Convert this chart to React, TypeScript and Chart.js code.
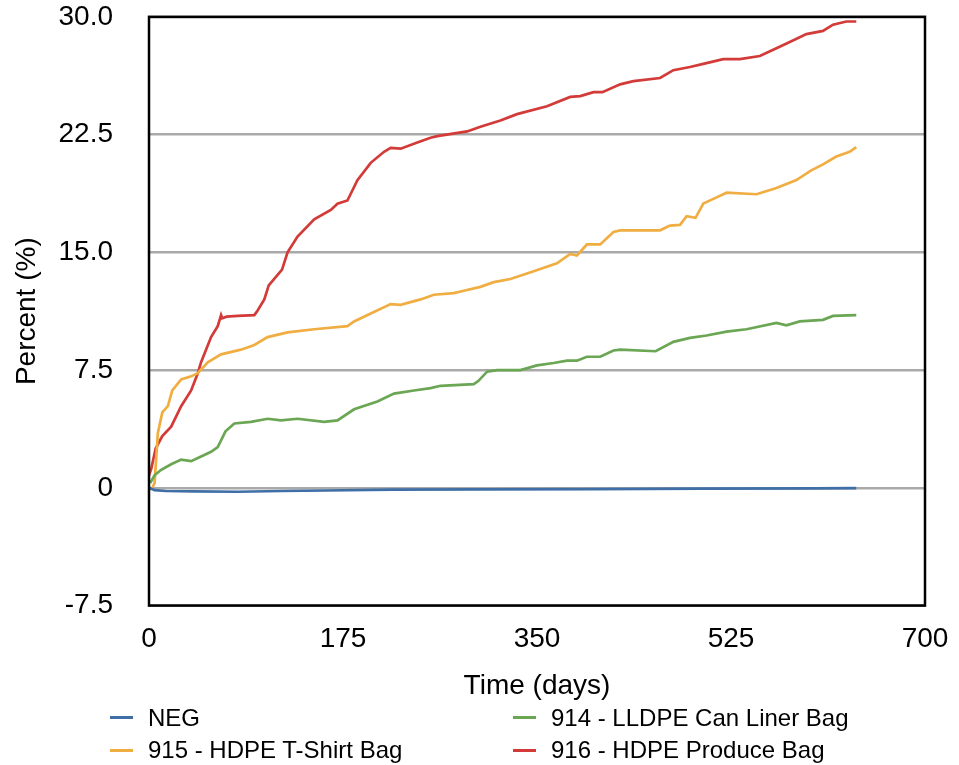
import React, { useEffect, useRef } from "react";
import { Chart, registerables } from "chart.js";

Chart.register(...registerables);

// ---- Data ----
const negDays = [0, 5, 15, 40, 80, 120, 160, 220, 300, 400, 500, 600, 638];
const negValues = [0.0, -0.15, -0.2, -0.22, -0.25, -0.2, -0.17, -0.12, -0.1, -0.08, -0.05, -0.03, -0.02];

const lldpeDays = [1, 5, 11, 20, 29, 38, 47, 56, 62, 69, 77, 92, 107, 119, 134, 158, 170, 185, 206, 221, 239, 254, 263, 293, 297, 305, 314, 335, 350, 365, 377, 386, 395, 407, 419, 425, 457, 473, 488, 503, 521, 539, 566, 575, 587, 608, 617, 638];
const lldpeValues = [0.3, 0.8, 1.15, 1.5, 1.8, 1.7, 2.0, 2.3, 2.6, 3.6, 4.1, 4.2, 4.4, 4.3, 4.4, 4.2, 4.3, 5.0, 5.5, 6.0, 6.2, 6.35, 6.5, 6.6, 6.8, 7.4, 7.5, 7.5, 7.8, 7.95, 8.1, 8.1, 8.35, 8.35, 8.75, 8.8, 8.7, 9.3, 9.55, 9.7, 9.95, 10.1, 10.5, 10.35, 10.6, 10.7, 10.95, 11.0];

const tshirtDays = [1, 3, 5, 8, 12, 17, 21, 29, 38, 44, 53, 65, 83, 95, 107, 125, 149, 179, 185, 200, 218, 227, 245, 257, 275, 284, 299, 311, 326, 347, 368, 380, 386, 395, 407, 419, 425, 461, 470, 479, 485, 493, 500, 512, 521, 548, 566, 584, 597, 608, 620, 632, 638];
const tshirtValues = [-0.1, 0.0, 0.3, 3.5, 4.8, 5.2, 6.2, 6.9, 7.1, 7.3, 8.0, 8.5, 8.8, 9.1, 9.6, 9.9, 10.1, 10.3, 10.6, 11.1, 11.7, 11.65, 12.0, 12.3, 12.4, 12.55, 12.8, 13.1, 13.3, 13.8, 14.3, 14.9, 14.8, 15.5, 15.5, 16.3, 16.4, 16.4, 16.7, 16.75, 17.3, 17.2, 18.1, 18.5, 18.8, 18.7, 19.1, 19.6, 20.2, 20.6, 21.1, 21.4, 21.7];

const produceDays = [0, 2, 6, 12, 20, 29, 38, 44, 47, 56, 62, 65, 66, 70, 80, 95, 98, 104, 108, 120, 125, 134, 149, 164, 170, 179, 188, 200, 212, 218, 227, 242, 254, 260, 287, 299, 317, 332, 359, 380, 389, 401, 409, 425, 437, 461, 473, 488, 500, 518, 533, 551, 566, 578, 593, 608, 617, 629, 638];
const produceValues = [0.8, 1.2, 2.5, 3.3, 3.9, 5.2, 6.2, 7.3, 8.0, 9.6, 10.3, 11.0, 10.8, 10.9, 10.95, 11.0, 11.3, 12.0, 12.9, 13.9, 15.0, 16.0, 17.1, 17.7, 18.1, 18.3, 19.6, 20.7, 21.4, 21.65, 21.6, 22.0, 22.3, 22.4, 22.7, 23.0, 23.4, 23.8, 24.3, 24.9, 24.95, 25.2, 25.2, 25.7, 25.9, 26.1, 26.6, 26.8, 27.0, 27.3, 27.3, 27.5, 28.0, 28.4, 28.9, 29.1, 29.5, 29.7, 29.7];

const seriesLabels = ["NEG", "914 - LLDPE Can Liner Bag", "915 - HDPE T-Shirt Bag", "916 - HDPE Produce Bag"];
const seriesColors = ["#3f6fa6", "#6aa653", "#f0ae42", "#d23b38"];

const xTickValues = [0, 175, 350, 525, 700];
const xTickLabels = ["0", "175", "350", "525", "700"];
const yTickValues = [-7.5, 0, 7.5, 15, 22.5, 30];
const yTickLabels = ["-7.5", "0", "7.5", "15.0", "22.5", "30.0"];

const xTitle = "Time (days)";
const yTitle = "Percent (%)";

const FONT = "'Liberation Sans', Arial, Helvetica, sans-serif";

function toPoints(days: number[], vals: number[]) {
  return days.map((d, i) => ({ x: d, y: vals[i] }));
}

const borderPlugin = {
  id: "plotBorder",
  afterDraw(chart: any) {
    const { ctx, chartArea } = chart;
    ctx.save();
    ctx.strokeStyle = "#000";
    ctx.lineWidth = 2.5;
    ctx.strokeRect(chartArea.left, chartArea.top, chartArea.right - chartArea.left, chartArea.bottom - chartArea.top);
    ctx.restore();
  },
};

export default function App() {
  const canvasRef = useRef<HTMLCanvasElement | null>(null);

  useEffect(() => {
    if (!canvasRef.current) return;
    const dataSets = [
      toPoints(negDays, negValues),
      toPoints(lldpeDays, lldpeValues),
      toPoints(tshirtDays, tshirtValues),
      toPoints(produceDays, produceValues),
    ];
    const chart = new Chart(canvasRef.current, {
      type: "line",
      data: {
        datasets: dataSets.map((d, i) => ({
          label: seriesLabels[i],
          data: d,
          borderColor: seriesColors[i],
          backgroundColor: seriesColors[i],
          borderWidth: 2.7,
          pointRadius: 0,
          tension: 0,
          fill: false,
        })),
      },
      options: {
        animation: false,
        responsive: true,
        maintainAspectRatio: false,
        layout: { padding: { left: 0, top: 16.5, right: 34, bottom: 0 } },
        plugins: { legend: { display: false }, tooltip: { enabled: false } },
        scales: {
          x: {
            type: "linear",
            min: 0,
            max: 700,
            border: { display: false },
            grid: { display: false, drawTicks: true, tickLength: 17, tickColor: "rgba(0,0,0,0)" },
            afterBuildTicks: (s: any) => {
              s.ticks = xTickValues.map((v) => ({ value: v }));
            },
            afterFit: (s: any) => {
              s.height = 99.4;
            },
            ticks: {
              color: "#000",
              padding: 0,
              maxRotation: 0,
              font: { family: FONT, size: 28 },
              callback: (v: any) => {
                const i = xTickValues.indexOf(Number(v));
                return i >= 0 ? xTickLabels[i] : "";
              },
            },
            title: {
              display: true,
              text: xTitle,
              color: "#000",
              font: { family: FONT, size: 28 },
              padding: { top: 0, bottom: 2 },
            },
          },
          y: {
            type: "linear",
            min: -7.5,
            max: 30,
            border: { display: false },
            grid: { color: "#a9a9a9", lineWidth: 2.5, drawTicks: true, tickLength: 36, tickColor: "rgba(0,0,0,0)" },
            afterBuildTicks: (s: any) => {
              s.ticks = yTickValues.map((v) => ({ value: v }));
            },
            afterFit: (s: any) => {
              s.width = 149;
            },
            ticks: {
              color: "#000",
              padding: 0,
              font: { family: FONT, size: 28 },
              callback: (v: any) => {
                const i = yTickValues.indexOf(Number(v));
                return i >= 0 ? yTickLabels[i] : "";
              },
            },
            title: {
              display: true,
              text: yTitle,
              color: "#000",
              font: { family: FONT, size: 28 },
              padding: { top: 10, bottom: 0 },
            },
          },
        },
      },
      plugins: [borderPlugin],
    });
    return () => chart.destroy();
  }, []);

  const legendPos = [
    { x: 110, y: 717.5 },
    { x: 513, y: 717.5 },
    { x: 110, y: 750 },
    { x: 513, y: 750 },
  ];

  return (
    <div style={{ position: "absolute", left: 0, top: 0, width: 959, height: 765, background: "#fff", fontFamily: FONT }}>
      <div style={{ position: "absolute", left: 0, top: 0, width: 959, height: 705 }}>
        <canvas ref={canvasRef} />
      </div>
      {seriesLabels.map((lab, i) => (
        <div key={lab}>
          <div
            style={{
              position: "absolute",
              left: legendPos[i].x,
              top: legendPos[i].y - 1.5,
              width: 23,
              height: 3,
              background: seriesColors[i],
            }}
          />
          <div
            style={{
              position: "absolute",
              left: legendPos[i].x + 38,
              top: legendPos[i].y - 14,
              height: 28,
              lineHeight: "28px",
              fontSize: 24,
              color: "#000",
              whiteSpace: "nowrap",
            }}
          >
            {lab}
          </div>
        </div>
      ))}
    </div>
  );
}
